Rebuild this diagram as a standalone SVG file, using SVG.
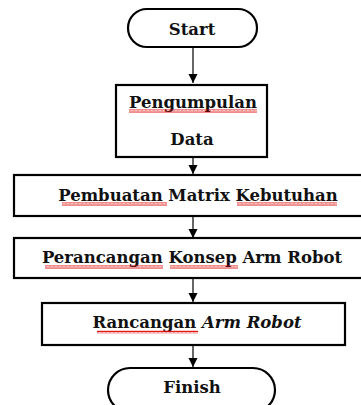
<svg xmlns="http://www.w3.org/2000/svg" width="361" height="405" viewBox="0 0 361 405">
<style>
.box{fill:#fff;stroke:#000;stroke-width:2.2}
.t{font-family:"DejaVu Serif","Liberation Serif",serif;font-weight:bold;font-size:16.5px;fill:#111;text-anchor:middle}
.edge{stroke:#000;stroke-width:1.2;fill:none}
</style>
<defs>
<marker id="ah" markerWidth="10" markerHeight="10" refX="9" refY="5" orient="auto" markerUnits="userSpaceOnUse">
<path d="M0,0.5 L9,5 L0,9.5 Z" fill="#000"/>
</marker>
<pattern id="wv" width="4" height="3" patternUnits="userSpaceOnUse">
<path d="M0,2.5 L1,0.5 L2,2.5 L3,0.5 L4,2.5" stroke="#e00000" stroke-width="0.9" fill="none"/>
</pattern>
</defs>
<rect width="361" height="405" fill="#fff"/>
<g id="connectors">
<line class="edge" x1="193" y1="47" x2="193" y2="83" marker-end="url(#ah)"/>
<line class="edge" x1="193" y1="157" x2="193" y2="174" marker-end="url(#ah)"/>
<line class="edge" x1="193" y1="216" x2="193" y2="238" marker-end="url(#ah)"/>
<line class="edge" x1="193" y1="278" x2="193" y2="302" marker-end="url(#ah)"/>
<line class="edge" x1="193" y1="345" x2="193" y2="367" marker-end="url(#ah)"/>
</g>
<g id="start">
<rect class="box" x="128" y="9" width="129" height="38" rx="19"/>
<text class="t" x="192" y="35">Start</text>
</g>
<g id="pengumpulan">
<rect class="box" x="116" y="85" width="151" height="72"/>
<text class="t" x="193" y="108">Pengumpulan</text>
<text class="t" x="192" y="145">Data</text>
<rect x="129" y="109.5" width="128" height="3" fill="url(#wv)"/>
</g>
<g id="pembuatan">
<rect class="box" x="14" y="175" width="350" height="41"/>
<text class="t" x="198" y="201">Pembuatan Matrix Kebutuhan</text>
<rect x="62" y="202.5" width="105" height="3" fill="url(#wv)"/>
<rect x="237" y="202.5" width="100" height="3" fill="url(#wv)"/>
</g>
<g id="perancangan">
<rect class="box" x="14" y="238" width="350" height="40"/>
<text class="t" x="192" y="263">Perancangan Konsep Arm Robot</text>
<rect x="45" y="265.5" width="118" height="3" fill="url(#wv)"/>
<rect x="170" y="265.5" width="68" height="3" fill="url(#wv)"/>
</g>
<g id="rancangan">
<rect class="box" x="42" y="303" width="303" height="42"/>
<text class="t" x="197" y="328">Rancangan <tspan font-style="italic">Arm Robot</tspan></text>
<rect x="97" y="330.5" width="101" height="3" fill="url(#wv)"/>
</g>
<g id="finish">
<rect class="box" x="108" y="368" width="167" height="44" rx="22"/>
<text class="t" x="192" y="393">Finish</text>
</g>
</svg>
